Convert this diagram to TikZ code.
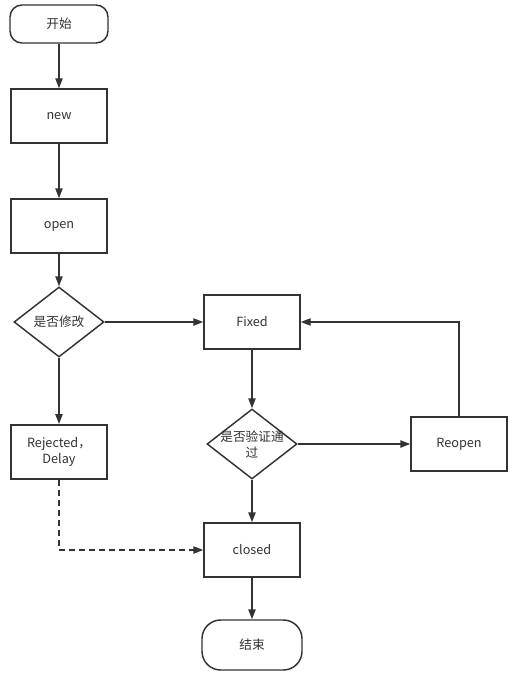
\documentclass[tikz,border=0pt]{standalone}
\usepackage{fontspec}
\setmainfont{Noto Sans CJK SC}
\usetikzlibrary{shapes.geometric,arrows.meta}
\definecolor{ln}{HTML}{333333}
\tikzset{
  base/.style={draw=ln, line width=1.1pt, fill=white, text=ln, font=\fontsize{9.5pt}{12pt}\selectfont, align=center, inner sep=0pt},
  term/.style={base, rounded corners=9pt, minimum width=73.5pt, minimum height=28.5pt},
  term2/.style={base, rounded corners=14pt, minimum width=75pt, minimum height=37.5pt},
  proc/.style={base, rectangle, minimum width=72pt, minimum height=40.5pt},
  dia/.style={base, diamond, minimum width=67.5pt, minimum height=52.5pt},
  txt/.style={text=ln, font=\fontsize{9.5pt}{12pt}\selectfont, align=center, inner sep=0pt},
  arr/.style={draw=ln, line width=1.1pt, -{Triangle[length=7.5pt,width=5.5pt]}},
  dsh/.style={arr, dash pattern=on 4.5pt off 3pt},
}
\begin{document}
\begin{tikzpicture}[x=0.75pt, y=-0.75pt]
\useasboundingbox (0,0) rectangle (523,675);
\node[term] (start) at (59,24) {开始};
\node[proc] (new) at (59,116) {new};
\node[proc] (open) at (59,226) {open};
\node[dia] (d1) at (59,322) {};
\node[txt] (d1t) at (d1.center) {是否修改};
\node[proc, line width=1.5pt] (rej) at (59,452) {Rejected，\\Delay};
\node[proc] (fixed) at (252,322) {Fixed};
\node[dia] (d2) at (252,444) {};
\node[txt] (d2t) at (d2.center) {是否验证通\\过};
\node[proc] (reopen) at (459,444) {Reopen};
\node[proc] (closed) at (252,550) {closed};
\node[term2] (end) at (252,645) {结束};
\coordinate (c1) at (459,322);
\coordinate (c2) at (59,550);

\draw[arr] (start) -- (new);
\draw[arr] (new) -- (open);
\draw[arr] (open) -- (d1);
\draw[arr] (d1) -- (rej);
\draw[arr] (d1) -- (fixed);
\draw[arr] (fixed) -- (d2);
\draw[arr] (d2) -- (reopen);
\draw[arr] (d2) -- (closed);
\draw[arr] (reopen.north) -- (c1) -- (fixed.east);
\draw[dsh] (rej.south) -- (c2) -- (closed.west);
\draw[arr] (closed) -- (end);
\end{tikzpicture}
\end{document}
